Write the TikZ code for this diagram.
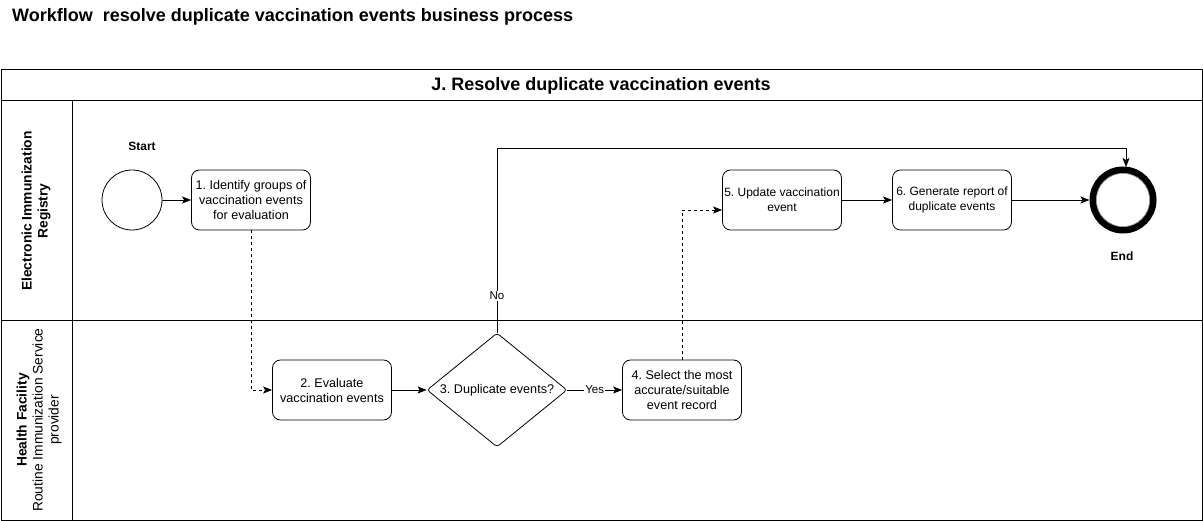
\documentclass[tikz,border=0pt]{standalone}
\usepackage{fontspec}
\setmainfont{Liberation Sans}
\usetikzlibrary{shapes.geometric,arrows.meta}
\frenchspacing
\begin{document}
\begin{tikzpicture}[x=1pt,y=-1pt,
  lane/.style={draw=black,line width=1pt},
  task/.style={draw=black,rounded corners=8pt,minimum width=119pt,minimum height=60pt,align=center,font=\fontsize{12.6}{15}\selectfont,inner sep=0pt,line width=0.8pt},
  smalltask/.style={task,font=\fontsize{12}{15}\selectfont},
  gate/.style={draw=black,diamond,aspect=1.23,minimum width=140pt,minimum height=114pt,inner sep=0pt,font=\fontsize{12.6}{15}\selectfont,rounded corners=3pt,line width=0.8pt},
  flow/.style={draw=black,line width=0.8pt,-{Stealth[length=9pt,width=7pt,inset=2pt]}},
  dflow/.style={flow,dashed},
  lbl/.style={font=\fontsize{12}{14}\selectfont\bfseries},
  elbl/.style={font=\fontsize{11.5}{13}\selectfont,fill=white,inner sep=1pt}]
\useasboundingbox (0,0) rectangle (1203,521);
\fill[white] (0,0) rectangle (1203,521);
% title
\node[anchor=west,font=\fontsize{18}{21}\selectfont\bfseries,inner sep=0pt] (title) at (12,17) {Workflow\ \ resolve duplicate vaccination events business process};
% pool
\draw[lane] (1,70) rectangle (1202,520);
\draw[lane] (1,101) -- (1202,101);
\draw[lane] (72,101) -- (72,520);
\draw[lane] (1,321) -- (1202,321);
\node[font=\fontsize{18}{21}\selectfont\bfseries] (pool) at (601,86) {J. Resolve duplicate vaccination events};
\node[rotate=90,align=center,font=\fontsize{13.8}{16}\selectfont\bfseries] (lane1) at (36,211) {Electronic Immunization\\Registry};
\node[rotate=90,align=center,font=\fontsize{13.8}{16}\selectfont] (lane2) at (39,420) {\textbf{Health Facility}\\Routine Immunization Service\\provider};
% nodes
\node[circle,draw=black,line width=0.8pt,minimum size=60pt,inner sep=0pt] (start) at (132,200) {};
\node[lbl] (startl) at (142,146) {Start};
\node[task] (t1) at (251,200) {1. Identify groups of\\vaccination events\\for evaluation};
\node[task] (t2) at (332,390) {2. Evaluate\\vaccination events};
\node[gate] (g3) at (497,390) {3. Duplicate events?};
\node[task] (t4) at (682,390) {4. Select the most\\accurate/suitable\\event record};
\node[smalltask] (t5) at (782,200) {5. Update vaccination\\event};
\node[smalltask] (t6) at (952,200) {6. Generate report of\\duplicate events};
\node[circle,draw=black,line width=7pt,minimum size=60pt,inner sep=0pt] (end) at (1123,200) {};
\draw[gray!60,line width=0.6pt] (end.center) circle (26.7pt);
\node[lbl] (endl) at (1122,256) {End};
% connectors
\draw[flow] (start) -- (t1);
\draw[dflow] (t1.south) |- (t2.west);
\draw[flow] (t2) -- (g3);
\draw[flow] (g3.east) -- node[elbl] {Yes} (t4.west);
\coordinate (c5) at ([yshift=-10pt]t5.west);
\draw[dflow] (t4.north) |- (c5);
\draw[flow] (t5) -- (t6);
\draw[flow] (t6) -- (end.west);
\coordinate (cn) at (497,148);
\coordinate (ce) at (1126,148);
\coordinate (cend) at (1126,167);
\draw[flow] (g3.north) -- node[elbl,pos=0.2] {No} (cn) -- (ce) -- (cend);
\end{tikzpicture}
\end{document}
